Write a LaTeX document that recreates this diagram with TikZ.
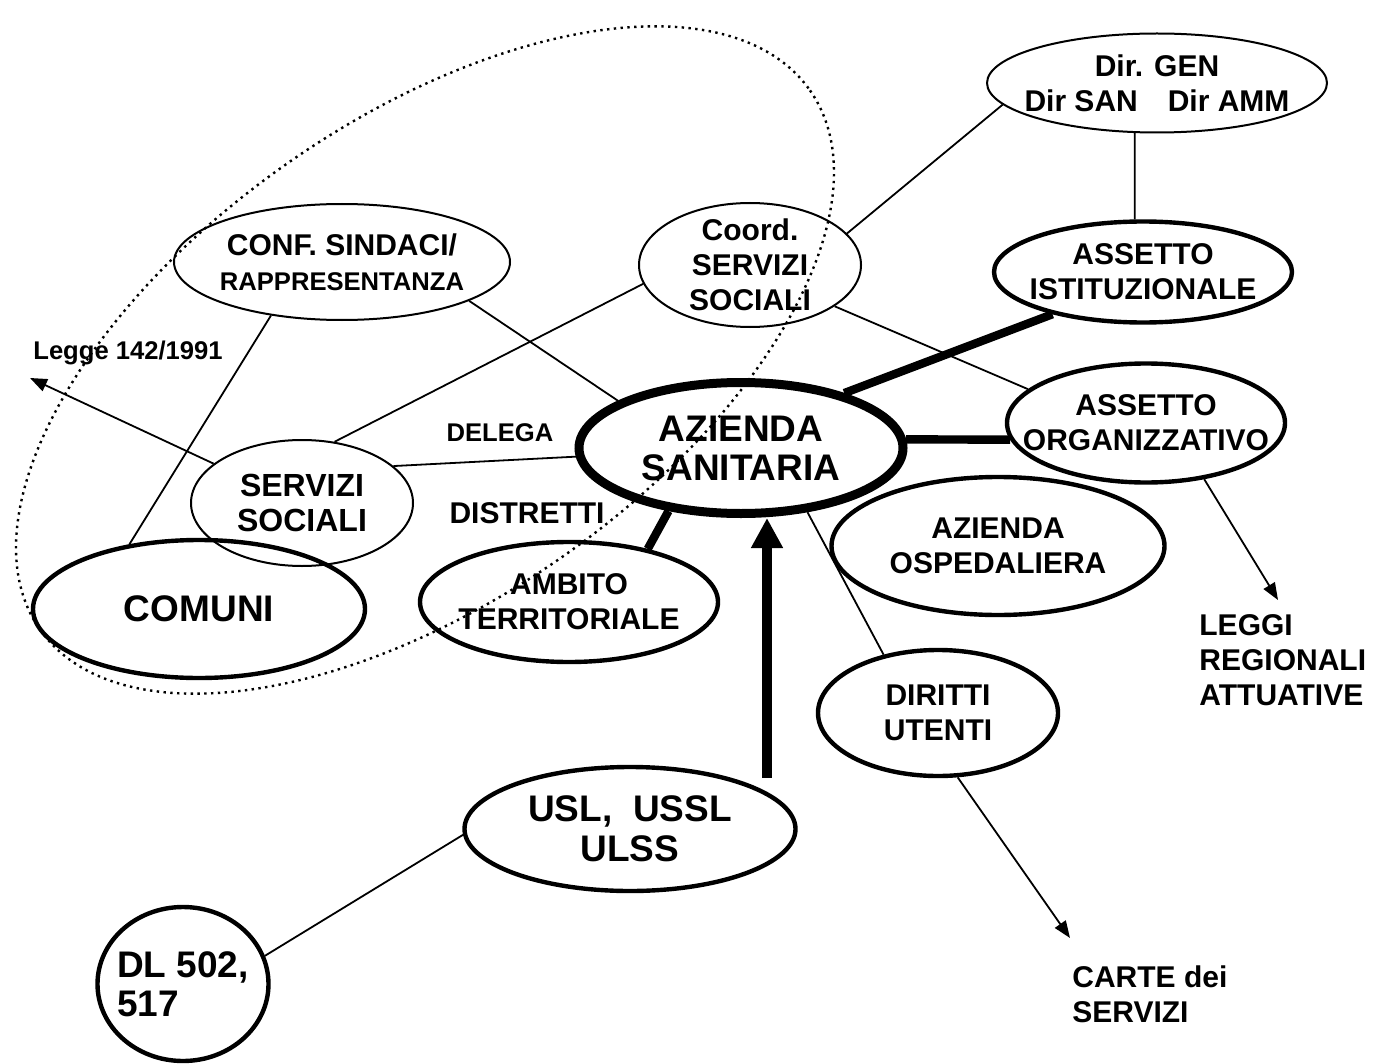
\documentclass[tikz,border=0pt]{standalone}
\usepackage{fontspec}
\setmainfont{Liberation Sans}
\usetikzlibrary{shapes.geometric,arrows.meta}

\newcommand*{\lblfont}{\bfseries\fontsize{15}{17.5}\selectfont}
\newcommand*{\bigfont}{\bfseries\fontsize{18.5}{19.5}\selectfont}
\newcommand*{\smallfont}{\bfseries\fontsize{12.8}{13.5}\selectfont}

\begin{document}
\begin{tikzpicture}
[
	x=0.5pt,
	y=-0.5pt,
	ell/.style={ellipse,draw,inner sep=-60pt,align=center,font=\lblfont},
	thinell/.style={ell,line width=1pt},
	thickell/.style={ell,line width=2.2pt},
	mainell/.style={ell,line width=4.5pt,font=\bigfont},
	txt/.style={inner sep=0pt,align=left,font=\lblfont},
	link/.style={line width=0.9pt},
	heavylink/.style={line width=4.2pt},
	arr/.style={line width=0.9pt,-{Triangle[length=8.5pt,width=6.5pt]}},
	bigarr/.style={line width=5pt,-{Triangle[length=15pt,width=15pt]}},
	dotline/.style={line width=1.2pt,dash pattern=on 1.2pt off 2.2pt}
]

	\useasboundingbox (0,0) rectangle (1391,1064);

	% ellipses
	\node[thinell,minimum width=170pt,minimum height=49.5pt] (dirgen) at (1157,83) {Dir. GEN\\Dir SAN\quad Dir AMM};
	\node[thickell,minimum width=149pt,minimum height=50.5pt] (istit) at (1143,272) {ASSETTO\\ISTITUZIONALE};
	\node[thinell,minimum width=111pt,minimum height=62pt] (coord) at (750,265) {Coord.\\SERVIZI\\SOCIALI};
	\node[thinell,minimum width=168pt,minimum height=58pt] (conf) at (342,262) {CONF. SINDACI/\\{\smallfont RAPPRESENTANZA}};
	\node[mainell,minimum width=162pt,minimum height=65.5pt] (azsan) at (741,448) {AZIENDA\\SANITARIA};
	\node[thickell,minimum width=139pt,minimum height=59.5pt] (asorg) at (1146,423) {ASSETTO\\ORGANIZZATIVO};
	\node[thinell,minimum width=111pt,minimum height=63pt,font=\bfseries\fontsize{16}{17.5}\selectfont] (servsoc) at (302,503) {SERVIZI\\SOCIALI};
	\node[thickell,minimum width=166pt,minimum height=69pt,font=\bigfont] (comuni) at (199,609) {COMUNI};
	\node[thickell,minimum width=149pt,minimum height=60pt] (ambito) at (569,602) {AMBITO\\TERRITORIALE};
	\node[thickell,minimum width=166.5pt,minimum height=69pt] (azosp) at (998,546) {AZIENDA\\OSPEDALIERA};
	\node[thickell,minimum width=120pt,minimum height=63pt] (diritti) at (938,713) {DIRITTI\\UTENTI};
	\node[thickell,minimum width=165.5pt,minimum height=62pt,font=\bfseries\fontsize{18.5}{20}\selectfont] (usl) at (630,829) {USL,\ \ USSL\\ULSS};
	\node[thickell,minimum width=85.5pt,minimum height=77pt,font=\bigfont,align=left] (dl) at (183,984) {DL 502,\\517};

	% free texts
	\node[txt,font=\smallfont] (legge) at (128,353) {Legge 142/1991};
	\node[txt,font=\smallfont] (delega) at (500,433) {DELEGA};
	\node[txt] (distretti) at (527,513) {DISTRETTI};
	\node[txt,anchor=west] (leggi) at (1199,660) {LEGGI\\REGIONALI\\ATTUATIVE};
	\node[txt,anchor=west] (carte) at (1072,994) {CARTE dei\\SERVIZI};

	\coordinate (leggetip) at (30,378);
	\coordinate (leggitip) at (1278,600);
	\coordinate (cartetip) at (1070,938);
	\coordinate (uslx) at (767,0);

	% thin links
	\draw[link] (dirgen.246) -- (istit.99);
	\draw[link] (dirgen.188) -- (coord.18);
	\draw[link] (coord.190) -- (servsoc.62);
	\draw[link] (coord.334) -- (asorg.164);
	\draw[link] (conf.343) -- (azsan.159);
	\draw[link] (conf.217) -- (comuni.137);
	\draw[link] (servsoc.22) -- (azsan.183);
	\draw[link] (azsan.316) -- (diritti.133);
	\draw[link] (usl.182) -- (dl.19);

	% heavy links
	\draw[heavylink] (azsan.221) -- (ambito.34);
	\draw[heavylink] (azsan.28) -- (istit.205);
	\draw[heavylink] (azsan.3) -- (asorg.187);
	\draw[bigarr,shorten <=3pt] (usl.21 -| uslx) -- (azsan.south -| uslx);

	% arrows
	\draw[arr] (servsoc.156) -- (leggetip);
	\draw[arr] (asorg.316) -- (leggitip);
	\draw[arr] (diritti.287) -- (cartetip);

	% dotted area
	\draw[dotline,rotate around={35:(425,360)}] (425,360) ellipse [x radius=470,y radius=240];

\end{tikzpicture}
\end{document}
